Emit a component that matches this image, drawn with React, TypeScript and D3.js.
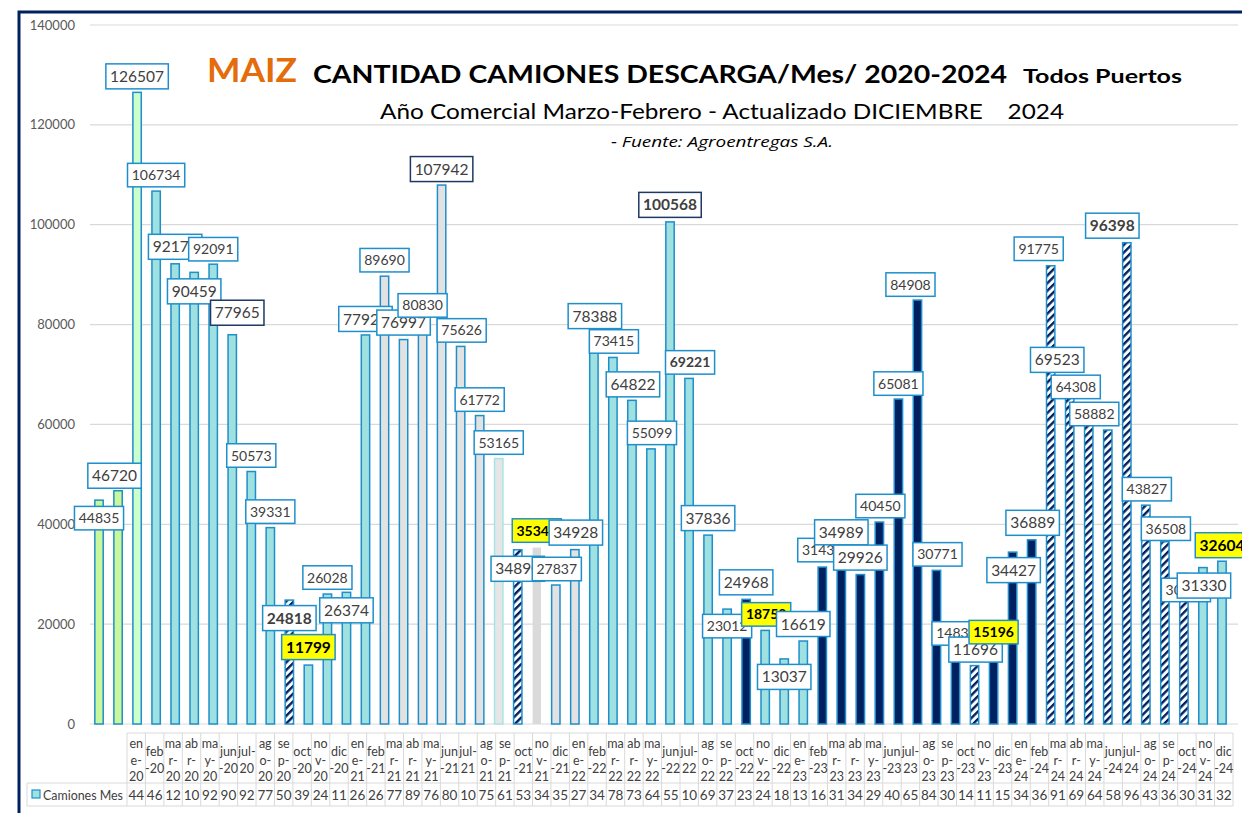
import React from 'react';
import * as d3 from 'd3';

// meses del año comercial (categorias)
const meses = [
  'ene-20', 'feb-20', 'mar-20', 'abr-20', 'may-20', 'jun-20', 'jul-20', 'ago-20', 'sep-20', 'oct-20', 'nov-20', 'dic-20',
  'ene-21', 'feb-21', 'mar-21', 'abr-21', 'may-21', 'jun-21', 'jul-21', 'ago-21', 'sep-21', 'oct-21', 'nov-21', 'dic-21',
  'ene-22', 'feb-22', 'mar-22', 'abr-22', 'may-22', 'jun-22', 'jul-22', 'ago-22', 'sep-22', 'oct-22', 'nov-22', 'dic-22',
  'ene-23', 'feb-23', 'mar-23', 'abr-23', 'may-23', 'jun-23', 'jul-23', 'ago-23', 'sep-23', 'oct-23', 'nov-23', 'dic-23',
  'ene-24', 'feb-24', 'mar-24', 'abr-24', 'may-24', 'jun-24', 'jul-24', 'ago-24', 'sep-24', 'oct-24', 'nov-24', 'dic-24',
];

// camiones descargados por mes
const camionesMes = [
  44835, 46720, 126507, 106734, 92171, 90459, 92091, 77965, 50573, 39331, 24818, 11799,
  26028, 26374, 77920, 89690, 76997, 80830, 107942, 75626, 61772, 53165, 34890, 35340,
  27837, 34928, 78388, 73415, 64822, 55099, 100568, 69221, 37836, 23012, 24968, 18750,
  13037, 16619, 31430, 34989, 29926, 40450, 65081, 84908, 30771, 14830, 11696, 15196,
  34427, 36889, 91775, 69523, 64308, 58882, 96398, 43827, 36508, 30150, 31330, 32604,
];

const yTicks = [0, 20000, 40000, 60000, 80000, 100000, 120000, 140000];

// estilo de cada barra (como en la planilla original)
const barStyle = [
  'verde', 'verde', 'menta', 'celeste', 'celeste', 'celeste', 'celeste', 'celeste', 'celeste', 'celeste', 'rayado', 'celeste',
  'celeste', 'celeste', 'celeste', 'gris', 'gris', 'gris', 'gris', 'gris', 'gris', 'palido', 'rayado', 'grisSinBorde',
  'gris', 'gris', 'celeste', 'celeste', 'celeste', 'celeste', 'celeste', 'celeste', 'celeste', 'celeste', 'marino', 'celeste',
  'celeste', 'celeste', 'marino', 'marino', 'marino', 'marino', 'marino', 'marino', 'marino', 'marino', 'rayado', 'marino',
  'marino', 'marino', 'rayado', 'rayado', 'rayado', 'rayado', 'rayado', 'rayado', 'rayado', 'rayado', 'celeste', 'celeste',
];

// posicion manual de las etiquetas respecto del tope de la barra
const labelOff: [number, number][] = [
  [0, 18], [-3.5, -15], [0, -16], [0, -16], [0, -17], [0, 19], [0, -15], [5, -22], [0, -16], [0, -16], [0, 18], [0, -18],
  [0, -16.5], [0, 18], [0, -16], [0, -16], [0, -17], [0, -15], [0, -16], [1, -16], [0, -16], [0, -16], [0, 19], [0, -17],
  [1, -16], [1, -17], [1, -16.5], [1, -16], [1, -16], [1, -16], [0, -17], [1, -16], [0, -17], [0, 17], [0, -17], [1, -16],
  [0, 18], [0, -17], [0, -17], [0, -17], [0, -17], [1, -16], [0, -15.5], [-7, -15.5], [1, -16], [1, -16.5], [1, -16], [0, -16],
  [1, 18], [1, -17], [-12, -17], [-12.5, -17], [-13, -16], [-13.5, -16], [-14.5, -17], [1, -16], [1, -13], [2, 16.5], [1, 18], [0, -16],
];
const bigLabels = new Set([1, 2, 4, 5, 7, 10, 11, 13, 14, 16, 18, 22, 25, 26, 28, 30, 32, 34, 36, 37, 39, 40, 46, 48, 49, 51, 54, 58, 59]);
const boldLabels = new Set([10, 11, 23, 30, 31, 35, 47, 54, 59]);
const yellowLabels = new Set([11, 23, 35, 47, 59]);
const navyBorder = new Set([7, 18, 30]);

const W = 1242;
const H = 813;
const FONT = 'Lato, "Open Sans", sans-serif';
const BLUE = '#1f8fcc';
const NAVY = '#002060';

const fills: Record<string, { fill: string; stroke: string }> = {
  verde: { fill: '#c8f79c', stroke: BLUE },
  menta: { fill: '#ccffcc', stroke: BLUE },
  celeste: { fill: '#9fe0e0', stroke: BLUE },
  gris: { fill: '#e2e2e2', stroke: BLUE },
  palido: { fill: '#e6e6e6', stroke: '#a8e4e4' },
  grisSinBorde: { fill: '#dadada', stroke: 'none' },
  marino: { fill: NAVY, stroke: BLUE },
  rayado: { fill: 'url(#rayas)', stroke: BLUE },
};

function wrapMes(m: string): string[] {
  const [mon, yy] = m.split('-');
  if (mon === 'jul') return ['jul-', yy];
  if (['feb', 'jun', 'oct', 'dic'].includes(mon)) return [mon, '-' + yy];
  return [mon.slice(0, 2), mon[2] + '-', yy];
}

export default function App() {
  const x = d3.scaleBand<string>().domain(meses).range([89.5, 1231.5]).paddingInner(0.56).paddingOuter(0.28);
  const y = d3.scaleLinear().domain([0, 140000]).range([724, 25]);
  const xt = d3.scaleBand<string>().domain(meses).range([127, 1233]);

  const tRow1 = 733;
  const tRow2 = 783;
  const tBottom = 806;

  return (
    <svg width={W} height={H} style={{ position: 'absolute', left: 0, top: 0, background: '#fff' }} fontFamily={FONT}>
      <defs>
        <pattern id="rayas" width={5.4} height={5.4} patternUnits="userSpaceOnUse" patternTransform="rotate(45)">
          <rect width={5.4} height={5.4} fill="#fff" />
          <rect width={2.4} height={5.4} fill={NAVY} />
        </pattern>
      </defs>
      <rect width={W} height={H} fill="#fff" />

      {/* grilla y eje */}
      {yTicks.map(t => (
        <g key={t}>
          <line x1={90} x2={1238} y1={y(t)} y2={y(t)} stroke="#d9d9d9" strokeWidth={1.2} />
          <text x={75} y={y(t)} dy="0.35em" textAnchor="end" fontSize={13} fill="#595959">{t}</text>
        </g>
      ))}

      {/* barras */}
      {meses.map((m, i) => {
        const st = fills[barStyle[i]];
        const v = camionesMes[i];
        return (
          <rect key={m} x={x(m)} y={y(v)} width={x.bandwidth()} height={y(0) - y(v)}
            fill={st.fill} stroke={st.stroke} strokeWidth={1.5} />
        );
      })}

      {/* etiquetas de datos */}
      {meses.map((m, i) => {
        const v = camionesMes[i];
        const txt = String(v);
        const big = bigLabels.has(i);
        const fs = big ? 15.5 : 14;
        const w = txt.length * fs * 0.58 + 8.5;
        const h = big ? 25 : 23.5;
        const cx = x(m)! + x.bandwidth() / 2 + labelOff[i][0];
        const cy = y(v) + labelOff[i][1];
        const yellow = yellowLabels.has(i);
        return (
          <g key={m}>
            <rect x={cx - w / 2} y={cy - h / 2} width={w} height={h}
              fill={yellow ? '#ffff00' : '#fff'} stroke={navyBorder.has(i) ? '#1f3864' : BLUE} strokeWidth={1.5} />
            <text x={cx} y={cy} dy="0.36em" textAnchor="middle" fontSize={fs}
              fontWeight={boldLabels.has(i) ? 700 : 400} fill={yellow ? '#000' : '#404040'}>{txt}</text>
          </g>
        );
      })}

      {/* titulos */}
      <text x={207} y={82} fontSize={32} fontWeight={700} fill="#e46c0a" textLength={90} lengthAdjust="spacingAndGlyphs">MAIZ</text>
      <text x={313} y={83} fontSize={25} fontWeight={700} fill="#000" textLength={694} lengthAdjust="spacingAndGlyphs">CANTIDAD CAMIONES DESCARGA/Mes/ 2020-2024</text>
      <text x={1023} y={83} fontSize={19} fontWeight={700} fill="#000" textLength={159} lengthAdjust="spacingAndGlyphs">Todos Puertos</text>
      <text x={380} y={119} fontSize={21} fill="#000" textLength={684} lengthAdjust="spacingAndGlyphs" style={{ whiteSpace: 'pre' }}>Año Comercial Marzo-Febrero - Actualizado DICIEMBRE    2024</text>
      <text x={611} y={147} fontSize={15} fontStyle="italic" fontFamily='"Open Sans", sans-serif' fill="#000" textLength={222} lengthAdjust="spacingAndGlyphs">- Fuente: Agroentregas S.A.</text>

      {/* tabla de datos */}
      <g stroke="#d9d9d9" strokeWidth={1}>
        <line x1={127} x2={1233} y1={tRow1} y2={tRow1} />
        <line x1={27} x2={1233} y1={tRow2} y2={tRow2} />
        <line x1={27} x2={1233} y1={tBottom} y2={tBottom} />
        <line x1={27} x2={27} y1={tRow2} y2={tBottom} />
        {meses.map(m => (
          <line key={m} x1={xt(m)!} x2={xt(m)!} y1={tRow1} y2={tBottom} />
        ))}
        <line x1={1233} x2={1233} y1={tRow1} y2={tBottom} />
      </g>
      {meses.map((m, i) => {
        const lines = wrapMes(m);
        const cx = xt(m)! + xt.bandwidth() / 2;
        const startY = lines.length === 3 ? 744 : 752;
        return (
          <g key={m} fontSize={12.5} fill="#404040" textAnchor="middle">
            {lines.map((l, k) => (
              <text key={k} x={cx} y={startY + k * 16.5} dy="0.35em">{l}</text>
            ))}
            <text x={cx} y={795} dy="0.35em" fontSize={13.5}>{String(camionesMes[i]).slice(0, 2)}</text>
          </g>
        );
      })}
      <rect x={32} y={790} width={8} height={8} fill="#9fe0e0" stroke={BLUE} strokeWidth={1.2} />
      <text x={43} y={795} dy="0.35em" fontSize={13} fill="#404040" textLength={80} lengthAdjust="spacingAndGlyphs">Camiones Mes</text>

      {/* marco */}
      <path d={`M19,${H} V12 H${W}`} fill="none" stroke={NAVY} strokeWidth={3} />
    </svg>
  );
}
